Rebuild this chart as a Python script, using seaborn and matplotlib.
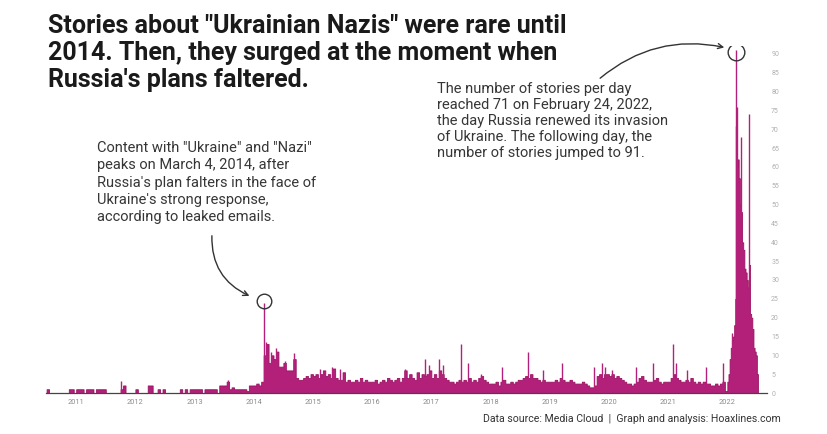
import numpy as np
import pandas as pd
import matplotlib
matplotlib.use("Agg")
import matplotlib.pyplot as plt
import seaborn as sns

# half-month story counts (Jan 1-15, Jan 16-31, ...)
v2010 = [1, 0, 0, 0, 0, 0, 0, 0, 0, 1, 1, 0]  # Jul-Dec only
v2011 = [1, 1, 1, 0, 1, 1, 1, 0, 1, 1, 1, 1, 0, 0, 0, 0, 0, 0, 1, 2, 0, 0, 0, 0]
v2012 = [1, 0, 0, 0, 0, 2, 2, 0, 0, 1, 0, 1, 0, 0, 0, 0, 0, 0, 1, 0, 1, 0, 1, 1]
v2013 = [1, 1, 1, 0, 1, 1, 1, 1, 1, 0, 2, 2, 2, 3, 1, 1.5, 1, 1, 1, 1, 1, 0.5, 2, 2]
v2014 = [2, 2.5, 2, 3, 10, 13, 8, 10, 9, 11, 7, 7, 8, 6, 6, 6, 9, 4, 3.5, 3.5, 4, 4.5, 4, 5]
v2015 = [4.5, 5, 4, 5, 6, 4.5, 5, 4, 6.5, 4, 3.5, 3.5, 5.5, 3, 3.5, 3, 3, 3.5, 3, 4, 3, 3.5, 3, 3]
v2016 = [3, 3.5, 2.5, 3, 3.5, 3, 4, 3.5, 3, 3.5, 4, 3, 4, 6, 4, 5, 4, 3.5, 5.5, 4, 5, 4.5, 5, 6]
v2017 = [4, 5, 4, 6, 5, 4, 3.5, 3, 3, 2.5, 3, 3.5, 3, 3.5, 3, 4, 3, 3.5, 3, 4, 4.5, 3.5, 3, 2.5]
v2018 = [2.5, 2.5, 3, 2, 3, 3.5, 2.5, 2.5, 3, 2.5, 3, 3.5, 3.5, 4, 4.5, 4, 5, 4, 4, 3.5, 3, 3.5, 3, 3]
v2019 = [3, 3, 3.5, 3, 4, 3.5, 3, 3, 3.5, 3, 2.5, 2.5, 2.5, 3, 2.5, 2, 1.5, 1.5, 2, 4.5, 5, 4, 5, 5]
v2020 = [4.5, 5, 4, 4.5, 4, 3.5, 3, 2.5, 2.5, 2, 2.5, 3, 4, 4.5, 3.5, 3, 3, 3, 3.5, 4, 3, 2.5, 3, 3]
v2021 = [3, 4, 5, 4, 3.5, 3, 3, 3.5, 3, 4, 3, 2.5, 3, 2.5, 3, 2.5, 2.5, 2, 2, 2.5, 2, 2.5, 3, 0.5]

# 2022: weekly counts starting Jan 1
w2022 = [3, 5, 9, 12, 14, 15, 18, 25, 60, 62, 57, 50, 48, 40, 38, 33, 32, 30, 28, 34,
         21, 20, 17, 12, 11, 10, 5]

# single-day spikes
spike_dates = ['2011-10-06', '2013-07-26', '2014-03-04', '2014-03-17', '2014-04-16',
               '2014-05-19', '2014-07-13', '2014-09-05', '2015-02-14', '2015-04-27',
               '2015-06-18', '2016-07-24', '2016-11-24', '2016-12-16', '2017-02-17',
               '2017-03-14', '2017-07-01', '2017-08-14', '2017-11-03', '2018-03-14',
               '2018-08-22', '2018-11-20', '2019-03-18', '2019-10-01', '2019-11-20',
               '2019-12-08', '2020-01-19', '2020-06-17', '2020-10-01', '2021-01-30',
               '2021-02-20', '2021-04-28', '2021-08-22', '2021-12-05', '2022-01-30',
               '2022-02-24', '2022-02-25', '2022-03-03', '2022-03-12', '2022-03-25',
               '2022-05-15']
spike_values = [3.3, 3.5, 24, 13.5, 11, 12, 8.5, 10.5, 6.5, 7, 6.5, 6.5, 9, 7.3, 9, 7.3,
                13, 8, 5, 7, 11, 6.2, 8, 7, 8, 7, 6.2, 7, 8, 13, 8, 6, 7, 8, 16, 71, 91,
                76, 57, 68, 74]

years = list(range(2010, 2022))
halfmonth = [v2010, v2011, v2012, v2013, v2014, v2015, v2016, v2017, v2018, v2019, v2020, v2021]

year_ticks = list(range(2011, 2023))
y_ticks = list(range(0, 95, 5))

title = ('Stories about "Ukrainian Nazis" were rare until\n'
         '2014. Then, they surged at the moment when\n'
         "Russia's plans faltered.")
note_2014 = ('Content with "Ukraine" and "Nazi"\n'
             'peaks on March 4, 2014, after\n'
             "Russia's plan falters in the face of\n"
             "Ukraine's strong response,\n"
             'according to leaked emails.')
note_2022 = ('The number of stories per day\n'
             'reached 71 on February 24, 2022,\n'
             'the day Russia renewed its invasion\n'
             'of Ukraine. The following day, the\n'
             'number of stories jumped to 91.')
source = 'Data source: Media Cloud  |  Graph and analysis: Hoaxlines.com'


def dec_year(d):
    d = pd.Timestamp(d)
    n = 366 if d.is_leap_year else 365
    return d.year + (d.dayofyear - 1) / n


# build bin edges / values
edges = []
vals = []
for y, v in zip(years, halfmonth):
    start = 24 - len(v)
    for i, val in enumerate(v):
        edges.append(y + (start + i) / 24)
        vals.append(val)
d0 = pd.Timestamp('2022-01-01')
for i, val in enumerate(w2022):
    edges.append(dec_year(d0 + pd.Timedelta(days=7 * i)))
    vals.append(val)
edges.append(dec_year(d0 + pd.Timedelta(days=7 * len(w2022))))
edges = [float(e) for e in edges]
centers = [(a + b) / 2 for a, b in zip(edges[:-1], edges[1:])]
counts = pd.DataFrame({'x': centers, 'w': [float(v) for v in vals]})

spike_x = [dec_year(d) for d in spike_dates]

sns.set_theme(style="white")
plt.rcParams['font.family'] = ['Roboto', 'DejaVu Sans']

W, H = 828, 434
fig = plt.figure(figsize=(W / 100, H / 100), dpi=100)
fig.patch.set_facecolor('white')


def fx(x):
    return x / W


def fy(y):
    return 1 - y / H


ax = fig.add_axes([fx(46), fy(393), (767 - 46) / W, (393 - 46.4) / H])

bar_col = '#b3207a'
edge_col = '#9a1263'
sns.histplot(data=counts, x='x', weights='w', bins=edges, element='step', fill=True,
             color=bar_col, edgecolor=edge_col, alpha=1, linewidth=0.6, ax=ax)
ax.vlines(spike_x, 0, spike_values, color=bar_col, linewidth=1.0)

ax.set_xlim(2010.49, 2022.67)
ax.set_ylim(0, 92)
ax.set_xlabel('')
ax.set_ylabel('')
ax.set_xticks(year_ticks)
ax.set_xticklabels([str(y) for y in year_ticks])
ax.set_yticks(y_ticks)
ax.yaxis.tick_right()
ax.tick_params(axis='x', length=0, pad=4, labelsize=5.3, labelcolor='#8c8c8c')
ax.tick_params(axis='y', length=0, pad=3, labelsize=5, labelcolor='#b0b0b0')
for s in ['top', 'left', 'right']:
    ax.spines[s].set_visible(False)
ax.spines['bottom'].set_color('#444444')
ax.spines['bottom'].set_linewidth(0.9)
ax.grid(False)

# circles on the peaks
ax.plot([dec_year('2014-03-04')], [24.3], marker='o', markersize=10.5,
        markerfacecolor='none', markeredgecolor='#333333', markeredgewidth=1.0)
ax.plot([dec_year('2022-02-25')], [90.5], marker='o', markersize=12,
        markerfacecolor='none', markeredgecolor='#333333', markeredgewidth=1.0)

fig.text(fx(48), fy(14), title, ha='left', va='top', fontsize=18, fontweight='bold',
         color='#1a1a1a', linespacing=1.16)
fig.text(fx(97), fy(141), note_2014, ha='left', va='top', fontsize=10.5,
         color='#363636', linespacing=1.3)
fig.text(fx(437), fy(82), note_2022, ha='left', va='top', fontsize=10.5,
         color='#363636', linespacing=1.18)
fig.text(fx(781), fy(422), source, ha='right', va='baseline', fontsize=7.6,
         color='#333333')

arrow = dict(arrowstyle='->', color='#333333', lw=1.0, mutation_scale=9)
fig.add_artist(plt.Annotation('', xy=(fx(252), fy(297)), xytext=(fx(212), fy(233)),
                              xycoords='figure fraction', textcoords='figure fraction',
                              arrowprops=dict(connectionstyle='arc3,rad=0.35', **arrow)))
fig.add_artist(plt.Annotation('', xy=(fx(727), fy(48)), xytext=(fx(598), fy(80)),
                              xycoords='figure fraction', textcoords='figure fraction',
                              arrowprops=dict(connectionstyle='arc3,rad=-0.25', **arrow)))

fig.savefig('out.png', dpi=100)
